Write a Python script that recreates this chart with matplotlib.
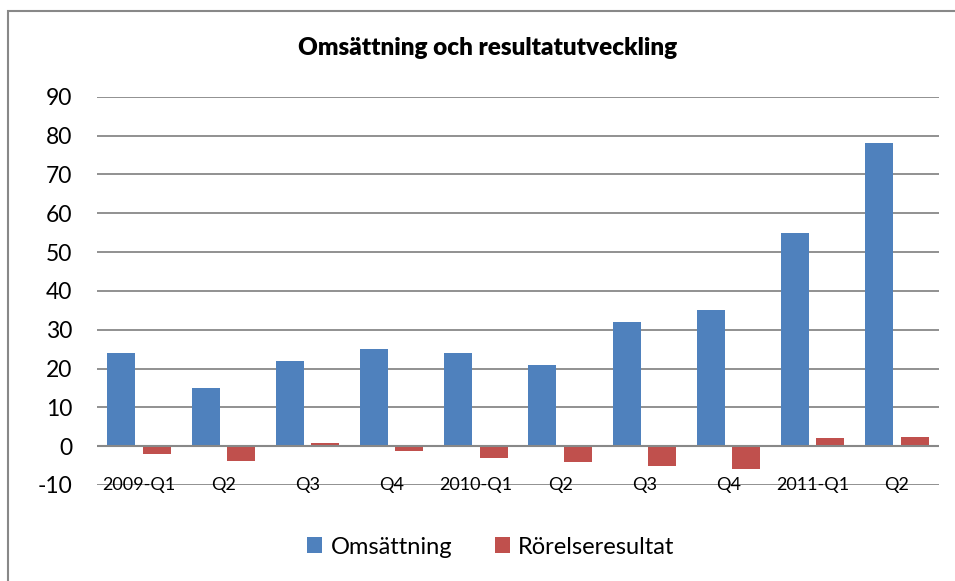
import matplotlib
matplotlib.use("Agg")
import matplotlib.pyplot as plt
from matplotlib.patches import Rectangle
import numpy as np

categories = ["2009-Q1", "Q2", "Q3", "Q4", "2010-Q1", "Q2", "Q3", "Q4", "2011-Q1", "Q2"]
omsattning = [24, 15, 22, 25, 24, 21, 32, 35, 55, 78]
rorelseresultat = [-2, -3.7, 0.8, -1.3, -3, -4.1, -5.1, -5.8, 2, 2.4]
yticks = list(range(-10, 100, 10))

plt.rcParams['font.family'] = ['Lato', 'DejaVu Sans']

fig = plt.figure(figsize=(9.55, 5.81), dpi=100)
ax = fig.add_axes([97/955, 1-485/581, (939-97)/955, (485-96.7)/581])

x = np.arange(len(categories))
w = 0.333
ax.bar(x - 0.21, omsattning, w, color="#4F81BD", label="Omsättning", zorder=3)
ax.bar(x + 0.21, rorelseresultat, w, color="#C0504D", label="Rörelseresultat", zorder=3)

ax.set_xlim(-0.5, len(categories) - 0.5)
ax.set_ylim(-10, 90)
ax.set_yticks(yticks)
ax.set_yticklabels([str(t) for t in yticks], fontsize=16.5)
ax.tick_params(axis='y', length=0, pad=18)
ax.tick_params(axis='x', length=0, labelbottom=False)
ax.grid(axis='y', color="#888888", linewidth=1.3, zorder=0)
ax.axhline(0, color="#888888", linewidth=1.5, zorder=4)
for s in ax.spines.values():
    s.set_visible(False)

for i, lab in enumerate(categories):
    ax.text(i, -10, lab, ha='center', va='center', fontsize=13, zorder=5)

fig.text(0.511, 1-48/581, "Omsättning och resultatutveckling", ha='center', va='center',
         fontsize=17.5, fontweight='heavy')

leg = fig.legend(loc='center', bbox_to_anchor=(0.514, 1-547/581), ncol=2, frameon=False,
                 fontsize=17, handlelength=0.65, handleheight=0.65, handletextpad=0.35,
                 columnspacing=1.8)

fig.patches.append(Rectangle((8/955, -0.1), 1.2, 1.1 - 11/581, transform=fig.transFigure,
                             fill=False, edgecolor="#888888", linewidth=1.5))

fig.savefig("out.png", dpi=100)
